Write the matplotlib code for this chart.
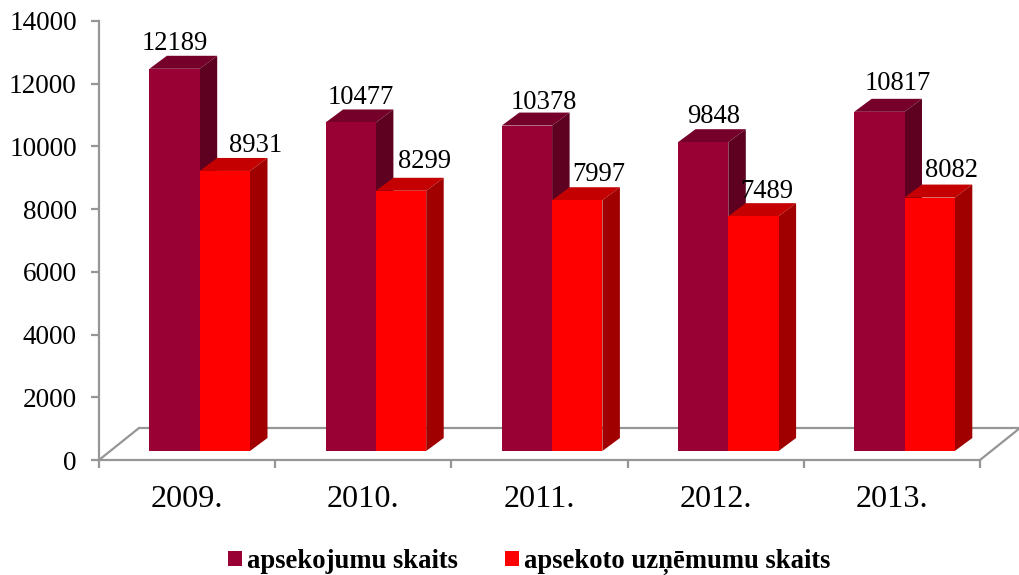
import matplotlib
matplotlib.use("Agg")
import matplotlib.pyplot as plt
from matplotlib.patches import Polygon, Patch

plt.rcParams['font.family'] = ['Liberation Serif', 'DejaVu Serif']

years = ['2009.', '2010.', '2011.', '2012.', '2013.']
surveys = [12189, 10477, 10378, 9848, 10817]
companies = [8931, 8299, 7997, 7489, 8082]
y_ticks = [0, 2000, 4000, 6000, 8000, 10000, 12000, 14000]
series_names = ['apsekojumu skaits', 'apsekoto uzņēmumu skaits']

# label nudges in pixels (dx from front-face centre, dy above back top edge)
survey_nudge = [(0, 12), (10, 12), (17, 10), (10, 13), (18, 15)]
company_nudge = [(31, 12), (23, 16), (21, 13), (13, 12), (22, 14)]

W, H = 1019, 575
L, R, T, B = 99.0, 980.0, 21, 460
fig = plt.figure(figsize=(W / 100, H / 100), dpi=100)
ax = fig.add_axes([L / W, 1 - B / H, (R - L) / W, (B - T) / H])
ax.set_xlim(0, 5)
ax.set_ylim(0, 14000)
ax.patch.set_alpha(0)

px_x = 5 / (R - L)
px_y = 14000 / (B - T)
GRAY = '#969696'

# geometry of the 3D look
bar_w = 50.3 * px_x
first = 50.4 * px_x
dx, dy = 17.5 * px_x, 13 * px_y
base = 9 * px_y
fl_dx, fl_dy = 40 * px_x, 32 * px_y


def box(x, value, front, top, side, z):
    y0, y1 = base, base + value
    ax.add_patch(Polygon([(x, y0), (x + bar_w, y0), (x + bar_w, y1), (x, y1)],
                         fc=front, ec='none', zorder=z + 0.2, clip_on=False))
    ax.add_patch(Polygon([(x, y1), (x + bar_w, y1), (x + bar_w + dx, y1 + dy), (x + dx, y1 + dy)],
                         fc=top, ec='none', zorder=z + 0.1, clip_on=False))
    ax.add_patch(Polygon([(x + bar_w, y0), (x + bar_w + dx, y0 + dy), (x + bar_w + dx, y1 + dy), (x + bar_w, y1)],
                         fc=side, ec='none', zorder=z + 0.1, clip_on=False))


# floor
ax.plot([0, fl_dx, 5 + fl_dx, 5], [0, fl_dy, fl_dy, 0], color=GRAY, lw=1.6,
        clip_on=False, zorder=1, solid_joinstyle='miter')

for i in range(len(years)):
    x1 = i + first
    x2 = x1 + bar_w
    box(x1, surveys[i], '#990033', '#75002A', '#5E0020', 2 + i)
    box(x2, companies[i], '#FF0000', '#C40000', '#A00000', 2.5 + i)
    for x, v, (nx, ny) in ((x1, surveys[i], survey_nudge[i]), (x2, companies[i], company_nudge[i])):
        ax.annotate(str(v), (x + bar_w / 2, base + v + dy), xytext=(nx * 0.72, ny * 0.72),
                    textcoords='offset points', ha='center', va='center',
                    fontsize=19.2, color='black', zorder=20, annotation_clip=False)

for s in ('top', 'right'):
    ax.spines[s].set_visible(False)
for s in ('left', 'bottom'):
    ax.spines[s].set_color(GRAY)
    ax.spines[s].set_linewidth(1.6)
    ax.spines[s].set_zorder(1.5)

ax.set_yticks(y_ticks)
ax.set_yticklabels([str(t) for t in y_ticks])
ax.set_xticks(range(6))
ax.set_xticklabels([])
ax.set_xticks([i + 0.5 for i in range(5)], minor=True)
ax.set_xticklabels(years, minor=True)
ax.tick_params(axis='y', length=6, width=1.6, color=GRAY, labelsize=19.6, pad=10, labelcolor='black')
ax.tick_params(axis='x', which='major', length=6, width=1.6, color=GRAY)
ax.tick_params(axis='x', which='minor', length=0, labelsize=23.2, pad=18, labelcolor='black')

handles = [Patch(fc='#990033', ec='none'), Patch(fc='#FF0000', ec='none')]
fig.legend(handles, series_names, loc='center left',
           bbox_to_anchor=(228 / W, 1 - 562 / H), ncol=2, frameon=False,
           prop={'size': 19.2, 'weight': 'bold'}, handlelength=0.53, handleheight=0.53,
           handletextpad=0.2, columnspacing=1.75, borderpad=0, borderaxespad=0)

fig.savefig('out.png', dpi=100)
